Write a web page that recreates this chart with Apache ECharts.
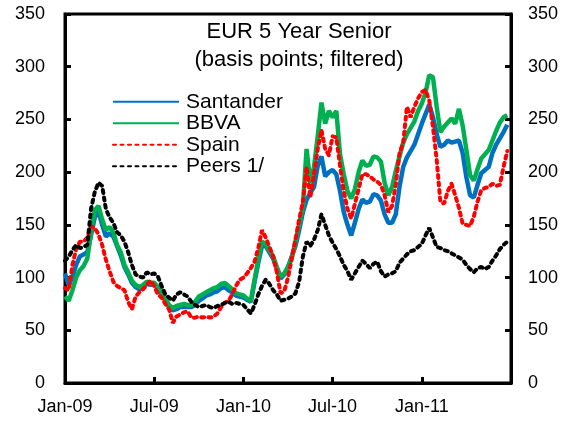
<!DOCTYPE html>
<html>
<head>
<meta charset="utf-8">
<script src="https://cdn.jsdelivr.net/npm/echarts@6/dist/echarts.min.js"></script>
<style>
  html, body { margin: 0; padding: 0; background: #fff; }
  #chart { width: 566px; height: 422px; }
</style>
</head>
<body>
<div id="chart"></div>
<script>
// x position in months since Jan-09, one point every quarter month
var months = [];
for (var i = 0; i < 120; i++) months.push(i * 0.25);

var xLabels = ['Jan-09', 'Jul-09', 'Jan-10', 'Jul-10', 'Jan-11', ''];

var santander = [
  104, 93, 100, 112, 120, 122, 124, 140, 157, 163, 150, 139, 142, 139, 130, 121,
  110, 103, 95, 91, 89, 91, 94, 93, 94, 90, 85, 78, 72, 69, 70, 72,
  72, 72, 72, 74, 78, 80, 83, 84, 86, 87, 90, 91, 88, 86, 83, 82,
  81, 79, 77, 96, 114, 130, 130, 124, 118, 108, 99, 103, 110, 120, 130, 145,
  162, 174, 180, 186, 206, 215, 196, 200, 202, 198, 182, 162, 150, 140, 152, 165,
  174, 171, 172, 179, 178, 173, 160, 152, 152, 160, 186, 205, 214, 220, 226, 236,
  246, 255, 264, 252, 236, 224, 226, 230, 228, 229, 230, 218, 195, 178, 176, 188,
  199, 202, 205, 218, 226, 232, 238, 245
];

var bbva = [
  82, 78, 88, 100, 107, 111, 118, 143, 164, 168, 155, 145, 148, 143, 131, 124,
  112, 105, 97, 93, 91, 93, 96, 95, 95, 91, 87, 80, 74, 71, 73, 74,
  75, 74, 74, 77, 82, 84, 86, 88, 90, 91, 94, 95, 92, 89, 85, 84,
  83, 80, 78, 98, 117, 134, 132, 126, 120, 110, 101, 104, 110, 118, 134, 150,
  167, 222, 190, 205, 234, 266, 246, 258, 252, 258, 217, 198, 182, 175, 184, 200,
  211, 206, 207, 215, 214, 210, 190, 178, 186, 201, 215, 228, 236, 242, 248, 258,
  265, 275, 292, 290, 262, 238, 243, 247, 251, 246, 260, 244, 221, 197, 192, 203,
  213, 217, 221, 230, 239, 247, 252, 254
];

var spain = [
  90, 88, 112, 127, 134, 134, 138, 149, 147, 141, 131, 117, 106, 96, 92, 90,
  88, 77, 70, 82, 86, 89, 93, 97, 92, 84, 81, 75, 70, 57, 63, 65,
  67, 68, 62, 62, 63, 62, 63, 62, 63, 66, 72, 76, 78, 84, 92, 98,
  100, 104, 109, 115, 128, 145, 138, 129, 120, 105, 85, 87, 100, 118, 136, 155,
  172, 205, 176, 198, 222, 240, 222, 216, 234, 233, 206, 182, 165, 156, 170, 184,
  198, 198, 196, 193, 191, 188, 178, 162, 168, 188, 218, 228, 262, 252, 262, 270,
  276, 278, 268, 243, 212, 172, 170, 182, 189, 178, 166, 151, 150, 149, 158, 172,
  183, 185, 186, 189, 187, 188, 205, 220
];

var peers = [
  116, 120, 126, 131, 128, 129, 131, 165, 181, 190, 187, 165, 157, 152, 143, 140,
  134, 124, 112, 103, 101, 100, 105, 103, 104, 101, 92, 84, 81, 78, 84, 86,
  84, 82, 77, 74, 72, 73, 74, 72, 71, 73, 74, 76, 77, 75, 76, 75,
  74, 70, 66, 74, 84, 92, 98, 94, 88, 84, 78, 79, 80, 82, 85, 96,
  120, 134, 130, 136, 145, 160, 150, 140, 133, 127, 120, 112, 106, 98, 104, 110,
  116, 113, 109, 113, 115, 106, 101, 103, 104, 106, 114, 118, 122, 125, 126, 129,
  132, 140, 147, 138, 129, 128, 126, 125, 123, 121, 119, 117, 112, 108, 105, 109,
  110, 108, 110, 116, 121, 127, 131, 134
];

function pairs(vals) {
  return months.map(function (m, i) { return [m, vals[i]]; });
}

var font = 'Arial, "Liberation Sans", sans-serif';

var yAxisBase = function (pos) {
  return {
    type: 'value',
    position: pos,
    min: 0,
    max: 350,
    interval: 50,
    axisLine: { show: true, lineStyle: { color: '#000', width: 3 } },
    axisTick: { show: true, inside: true, length: 6, lineStyle: { color: '#000', width: 3 } },
    axisLabel: { color: '#000', fontSize: 18, fontFamily: font, margin: pos === 'left' ? 20 : 17 },
    splitLine: { show: false }
  };
};

var myChart = echarts.init(document.getElementById('chart'), null, { renderer: 'canvas' });

var option = {
  animation: false,
  backgroundColor: '#fff',
  grid: {
    left: 65, right: 55, top: 14, bottom: 39,
    show: true, borderColor: '#000', borderWidth: 3
  },
  graphic: [
    {
      type: 'text',
      x: 299, y: 32,
      style: {
        text: 'EUR 5 Year Senior',
        fill: '#000', font: '22px ' + font,
        align: 'center', verticalAlign: 'middle'
      }
    },
    {
      type: 'text',
      x: 299, y: 60,
      style: {
        text: '(basis points; filtered)',
        fill: '#000', font: '22px ' + font,
        align: 'center', verticalAlign: 'middle'
      }
    }
  ],
  legend: {
    orient: 'vertical',
    left: 112,
    top: 91,
    padding: 0,
    itemWidth: 66,
    itemHeight: 2,
    itemGap: 0,
    itemStyle: { opacity: 0 },
    textStyle: { color: '#000', fontSize: 21, fontFamily: font, lineHeight: 21.5, padding: [0, 0, 0, 2] },
    data: ['Santander', 'BBVA', 'Spain', 'Peers 1/']
  },
  xAxis: {
    type: 'value',
    min: 0,
    max: 30,
    interval: 6,
    axisLine: { show: true, lineStyle: { color: '#000', width: 3 } },
    axisTick: { show: true, inside: true, length: 6, lineStyle: { color: '#000', width: 3 } },
    axisLabel: {
      color: '#000', fontSize: 18, fontFamily: font, margin: 15,
      formatter: function (v) { return xLabels[Math.round(v / 6)] || ''; }
    },
    splitLine: { show: false }
  },
  yAxis: [yAxisBase('left'), yAxisBase('right')],
  series: [
    {
      name: 'Santander', type: 'line', symbol: 'none',
      lineStyle: { color: '#0070C0', width: 4.5 },
      itemStyle: { color: '#0070C0' },
      data: pairs(santander)
    },
    {
      name: 'BBVA', type: 'line', symbol: 'none',
      lineStyle: { color: '#00B050', width: 4.5 },
      itemStyle: { color: '#00B050' },
      data: pairs(bbva)
    },
    {
      name: 'Spain', type: 'line', symbol: 'none',
      lineStyle: { color: '#FF0000', width: 4, type: [3, 4.5], cap: 'round' },
      itemStyle: { color: '#FF0000' },
      data: pairs(spain)
    },
    {
      name: 'Peers 1/', type: 'line', symbol: 'none',
      lineStyle: { color: '#000', width: 4, type: [3, 4.5], cap: 'round' },
      itemStyle: { color: '#000' },
      data: pairs(peers)
    }
  ]
};

myChart.setOption(option);
</script>
</body>
</html>
